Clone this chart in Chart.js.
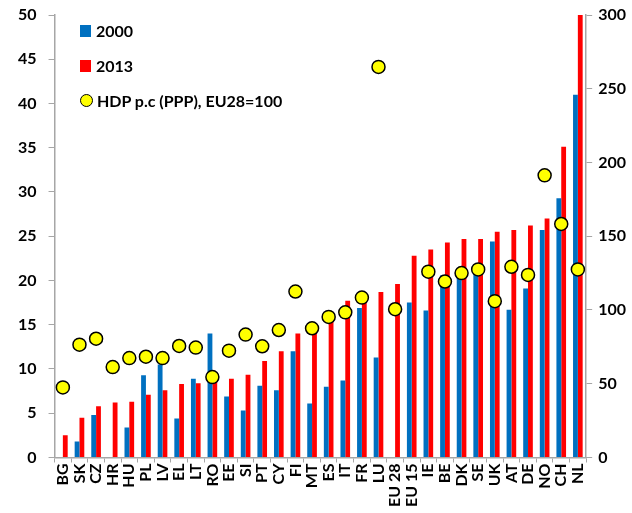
<!DOCTYPE html>
<html>
<head>
<meta charset="utf-8">
<script src="https://cdn.jsdelivr.net/npm/chart.js@4/dist/chart.umd.min.js"></script>
<style>
  body { margin: 0; background: #fff; }
  #wrap { position: relative; width: 632px; height: 513px; }
  #legend { position: absolute; left: 80px; top: 13px; font: bold 16px Lato, sans-serif; color: #000; }
  #legend div { display: flex; align-items: center; height: 35px; }
  #legend .sw { width: 11px; height: 12px; margin-right: 5px; }
  #legend .dot { width: 11px; height: 11px; border-radius: 50%; background: #ffff00; border: 1.5px solid #000; margin-right: 4px; }
</style>
</head>
<body>
<div id="wrap">
  <canvas id="c" width="632" height="513"></canvas>
  <div id="legend">
    <div><span class="sw" style="background:#0070c0"></span>2000</div>
    <div><span class="sw" style="background:#ff0000"></span>2013</div>
    <div><span class="dot"></span>HDP p.c (PPP), EU28=100</div>
  </div>
</div>
<script>
const countries = ['BG', 'SK', 'CZ', 'HR', 'HU', 'PL', 'LV', 'EL', 'LT', 'RO', 'EE', 'SI', 'PT', 'CY', 'FI', 'MT',
  'ES', 'IT', 'FR', 'LU', 'EU 28', 'EU 15', 'IE', 'BE', 'DK', 'SE', 'UK', 'AT', 'DE', 'NO', 'CH', 'NL'];

const values2000 = [null, 1.8, 4.8, null, 3.4, 9.3, 10.5, 4.4, 8.9, 14.0, 6.9, 5.3, 8.1, 7.6, 12.0, 6.1,
  8.0, 8.7, 16.9, 11.3, null, 17.5, 16.6, 20.6, 20.8, 21.8, 24.4, 16.7, 19.1, 25.7, 29.3, 41.0];

const values2013 = [2.5, 4.5, 5.8, 6.2, 6.3, 7.1, 7.6, 8.3, 8.4, 8.7, 8.9, 9.35, 10.9, 12.0, 14.0, 14.4,
  15.6, 17.7, 17.7, 18.7, 19.6, 22.8, 23.5, 24.3, 24.7, 24.7, 25.5, 25.7, 26.2, 27.0, 35.1, 50.0];

// HDP per capita in PPS, EU28 = 100 (right axis)
const gdpIndex = [47.5, 76.5, 80.5, 61.3, 67.4, 68.3, 67.4, 75.6, 74.5, 54.5, 72.4, 83.3, 75.4, 86.4, 112.5, 87.6,
  95.3, 98.4, 108.4, 264.8, 100.5, null, 126, 119.3, 125, 127.5, 106, 129.3, 123.8, 191.3, 158.3, 127.5];

const leftTicks = [0, 5, 10, 15, 20, 25, 30, 35, 40, 45, 50];
const rightTicks = [0, 50, 100, 150, 200, 250, 300];

const tickFont = { family: 'Lato, sans-serif', size: 16, weight: 'bold' };
const axisGray = '#a6a6a6';

// keep the plot area close to the top edge
const tightTop = axis => { axis.paddingTop = 15; };

new Chart(document.getElementById('c'), {
  data: {
    labels: countries,
    datasets: [
      {
        type: 'line',
        label: 'HDP p.c (PPP), EU28=100',
        data: gdpIndex,
        yAxisID: 'y1',
        showLine: false,
        pointRadius: 6.5,
        pointBackgroundColor: '#ffff00',
        pointBorderColor: '#000000',
        pointBorderWidth: 1.5,
        order: 0
      },
      {
        type: 'bar',
        label: '2000',
        data: values2000,
        backgroundColor: '#0070c0',
        yAxisID: 'y',
        categoryPercentage: 0.58,
        barPercentage: 1.0,
        order: 1
      },
      {
        type: 'bar',
        label: '2013',
        data: values2013,
        backgroundColor: '#ff0000',
        yAxisID: 'y',
        categoryPercentage: 0.58,
        barPercentage: 1.0,
        order: 1
      }
    ]
  },
  options: {
    responsive: false,
    animation: false,
    layout: { autoPadding: false, padding: { top: 0, right: 0, left: 6, bottom: 5 } },
    plugins: {
      legend: { display: false },
      tooltip: { enabled: false }
    },
    scales: {
      x: {
        grid: {
          offset: true,
          drawOnChartArea: false,
          drawTicks: true,
          tickLength: 5,
          color: axisGray
        },
        border: { color: axisGray, width: 1.5 },
        afterFit: axis => { axis.paddingTop = 0; },
        ticks: {
          font: { family: 'Lato, sans-serif', size: 16, weight: 'bold' },
          color: '#000',
          minRotation: 90,
          maxRotation: 90,
          autoSkip: false,
          padding: 1
        }
      },
      y: {
        position: 'left',
        min: 0,
        max: 50,
        afterBuildTicks: axis => { axis.ticks = leftTicks.map(v => ({ value: v })); },
        afterFit: tightTop,
        grid: { drawOnChartArea: false, tickLength: 6, color: axisGray },
        border: { color: axisGray, width: 1.5 },
        ticks: { font: tickFont, color: '#000', padding: 12 }
      },
      y1: {
        position: 'right',
        min: 0,
        max: 300,
        afterBuildTicks: axis => { axis.ticks = rightTicks.map(v => ({ value: v })); },
        afterFit: tightTop,
        grid: { drawOnChartArea: false, tickLength: 6, color: axisGray },
        border: { color: axisGray, width: 1.5 },
        ticks: { font: tickFont, color: '#000', padding: 6 }
      }
    }
  }
});
</script>
</body>
</html>
